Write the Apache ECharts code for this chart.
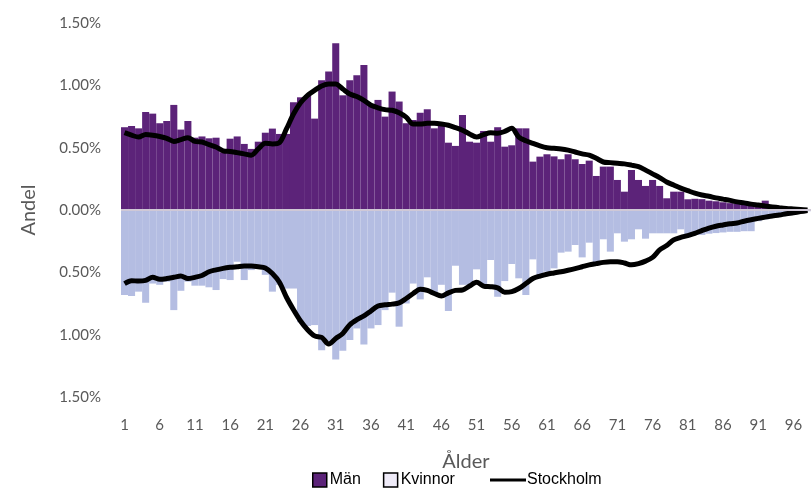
<!DOCTYPE html>
<html>
<head>
<meta charset="utf-8">
<script src="https://cdn.jsdelivr.net/npm/echarts@6/dist/echarts.min.js"></script>
<style>
  html, body { margin: 0; padding: 0; background: #fff; }
  #chart { width: 811px; height: 488px; }
</style>
</head>
<body>
<div id="chart"></div>
<script>
// ålder 1..98
var ages = []
for (var a = 1; a <= 98; a++) ages.push(String(a))

// andel män per ålder (%)
var man = [
  0.664, 0.674, 0.655, 0.786, 0.773, 0.696, 0.714, 0.843, 0.645, 0.714,
  0.58, 0.59, 0.575, 0.58, 0.463, 0.572, 0.59, 0.53, 0.49, 0.548,
  0.62, 0.653, 0.61, 0.61, 0.864, 0.904, 0.92, 0.733, 1.04, 1.11,
  1.338, 0.92, 1.04, 1.08, 1.164, 0.843, 0.883, 0.749, 0.95, 0.87,
  0.696, 0.722, 0.78, 0.808, 0.655, 0.682, 0.54, 0.514, 0.762, 0.548,
  0.54, 0.634, 0.548, 0.664, 0.508, 0.519, 0.655, 0.655, 0.388, 0.428,
  0.447, 0.43, 0.407, 0.447, 0.407, 0.369, 0.396, 0.273, 0.348, 0.348,
  0.241, 0.147, 0.321, 0.241, 0.193, 0.241, 0.193, 0.094, 0.147, 0.147,
  0.086, 0.09, 0.087, 0.075, 0.07, 0.062, 0.055, 0.05, 0.043, 0.036,
  0.03, 0.075, 0.02, 0.015, 0.01, 0.007, 0.004, 0.002
]

// andel kvinnor per ålder (%)
var kvinnor = [
  0.682, 0.69, 0.655, 0.744, 0.59, 0.6, 0.575, 0.803, 0.648, 0.575,
  0.607, 0.607, 0.62, 0.642, 0.554, 0.562, 0.415, 0.562, 0.482, 0.468,
  0.52, 0.655, 0.6, 0.63, 0.63, 0.9, 0.93, 0.923, 1.124, 1.057,
  1.2, 1.13, 1.043, 0.95, 1.078, 0.95, 0.923, 0.803, 0.663, 0.936,
  0.75, 0.59, 0.717, 0.54, 0.682, 0.6, 0.81, 0.447, 0.6, 0.6,
  0.476, 0.6, 0.401, 0.696, 0.57, 0.433, 0.548, 0.682, 0.396, 0.54,
  0.495, 0.468, 0.342, 0.334, 0.281, 0.38, 0.262, 0.441, 0.235, 0.334,
  0.187, 0.254, 0.235, 0.155, 0.23, 0.187, 0.187, 0.187, 0.187, 0.155,
  0.209, 0.2, 0.2, 0.19, 0.185, 0.18, 0.175, 0.175, 0.17, 0.17,
  0.09, 0.075, 0.06, 0.05, 0.04, 0.03, 0.02, 0.01
]

// Stockholm, män (%)
var sthlmMan = [
  0.62, 0.60, 0.585, 0.605, 0.60, 0.59, 0.575, 0.55, 0.565, 0.58,
  0.55, 0.545, 0.525, 0.505, 0.475, 0.47, 0.46, 0.45, 0.44, 0.49,
  0.535, 0.53, 0.54, 0.65, 0.77, 0.86, 0.92, 0.96, 0.995, 1.01,
  1.01, 0.97, 0.93, 0.91, 0.88, 0.84, 0.82, 0.805, 0.80, 0.78,
  0.745, 0.69, 0.69, 0.695, 0.695, 0.69, 0.68, 0.66, 0.64, 0.61,
  0.585, 0.605, 0.62, 0.615, 0.63, 0.655, 0.585, 0.555, 0.535, 0.515,
  0.5, 0.495, 0.49, 0.48, 0.465, 0.45, 0.44, 0.415, 0.385, 0.38,
  0.375, 0.37, 0.36, 0.348, 0.32, 0.29, 0.26, 0.225, 0.2, 0.175,
  0.155, 0.135, 0.12, 0.11, 0.097, 0.087, 0.077, 0.065, 0.057, 0.047,
  0.04, 0.032, 0.025, 0.018, 0.012, 0.008, 0.004, 0.0
]

// Stockholm, kvinnor (%)
var sthlmKvinnor = [
  0.59, 0.567, 0.57, 0.565, 0.54, 0.556, 0.55, 0.54, 0.53, 0.55,
  0.54, 0.525, 0.495, 0.48, 0.468, 0.46, 0.455, 0.45, 0.45, 0.455,
  0.465, 0.51, 0.58, 0.70, 0.80, 0.89, 0.96, 1.01, 1.022, 1.075,
  1.03, 0.99, 0.92, 0.88, 0.85, 0.81, 0.77, 0.76, 0.755, 0.745,
  0.71, 0.67, 0.635, 0.645, 0.67, 0.69, 0.665, 0.645, 0.642, 0.61,
  0.58, 0.61, 0.615, 0.625, 0.66, 0.655, 0.63, 0.59, 0.55, 0.53,
  0.515, 0.505, 0.495, 0.483, 0.47, 0.455, 0.44, 0.43, 0.42, 0.415,
  0.415, 0.425, 0.44, 0.43, 0.41, 0.38, 0.32, 0.285, 0.24, 0.22,
  0.205, 0.187, 0.165, 0.145, 0.13, 0.12, 0.11, 0.104, 0.09, 0.078,
  0.067, 0.057, 0.048, 0.04, 0.03, 0.022, 0.013, 0.005
]

var yTicks = [-1.5, -1.0, -0.5, 0, 0.5, 1.0, 1.5]

var textGrey = '#595959'
var purple = '#5c2379'
var lavender = '#b4bde2'

var neg = function (arr) { return arr.map(function (v) { return -v }) }

var chart = echarts.init(document.getElementById('chart'))
chart.setOption({
  animation: false,
  textStyle: { fontFamily: 'Lato' },
  grid: { left: 121, right: 0, top: 23, bottom: 91 },
  legend: [
    {
      data: [
        { name: 'Män', itemStyle: { color: purple, borderColor: '#000', borderWidth: 1.5 } },
        { name: 'Kvinnor', itemStyle: { color: '#efebf8', borderColor: '#000', borderWidth: 1.5 } }
      ],
      left: 307,
      top: 467,
      itemWidth: 14,
      itemHeight: 14,
      itemGap: 22,
      icon: 'rect',
      textStyle: { fontFamily: 'Liberation Sans', fontSize: 16, color: '#000', padding: [0, 0, 0, -2] }
    },
    {
      data: [{ name: 'Stockholm', icon: 'rect', itemStyle: { color: '#000' } }],
      left: 485,
      top: 467,
      itemWidth: 36,
      itemHeight: 3,
      textStyle: { fontFamily: 'Liberation Sans', fontSize: 16, color: '#000', padding: [0, 0, 0, -4] }
    }
  ],
  xAxis: {
    type: 'category',
    data: ages,
    name: 'Ålder',
    nameLocation: 'middle',
    nameGap: 55,
    nameTextStyle: { fontSize: 20, color: textGrey },
    axisLine: { show: false },
    axisTick: { show: false },
    axisLabel: { interval: 4, fontSize: 15, color: textGrey, margin: 21 }
  },
  yAxis: {
    type: 'value',
    min: yTicks[0],
    max: yTicks[yTicks.length - 1],
    interval: 0.5,
    name: 'Andel',
    nameLocation: 'middle',
    nameGap: 82,
    nameTextStyle: { fontSize: 20, color: textGrey },
    axisLine: { show: false },
    axisTick: { show: false },
    splitLine: { show: false },
    axisLabel: {
      fontSize: 15,
      color: textGrey,
      margin: 20,
      formatter: function (v) { return Math.abs(v).toFixed(2) + '%' }
    }
  },
  series: [
    {
      name: 'Män',
      type: 'bar',
      stack: 'pyramid',
      barCategoryGap: '0%',
      itemStyle: { color: purple },
      data: man
    },
    {
      name: 'Kvinnor',
      type: 'bar',
      stack: 'pyramid',
      barCategoryGap: '0%',
      itemStyle: { color: lavender },
      data: neg(kvinnor),
      markLine: {
        silent: true,
        symbol: 'none',
        label: { show: false },
        lineStyle: { color: '#cfc8d6', width: 2, type: 'solid' },
        data: [{ yAxis: 0 }]
      }
    },
    {
      name: 'Stockholm',
      type: 'line',
      smooth: 0.3,
      symbol: 'none',
      lineStyle: { color: '#000', width: 5 },
      itemStyle: { color: '#000' },
      data: sthlmMan
    },
    {
      name: 'Stockholm',
      type: 'line',
      smooth: 0.3,
      symbol: 'none',
      lineStyle: { color: '#000', width: 5 },
      itemStyle: { color: '#000' },
      data: neg(sthlmKvinnor)
    }
  ]
})
</script>
</body>
</html>
